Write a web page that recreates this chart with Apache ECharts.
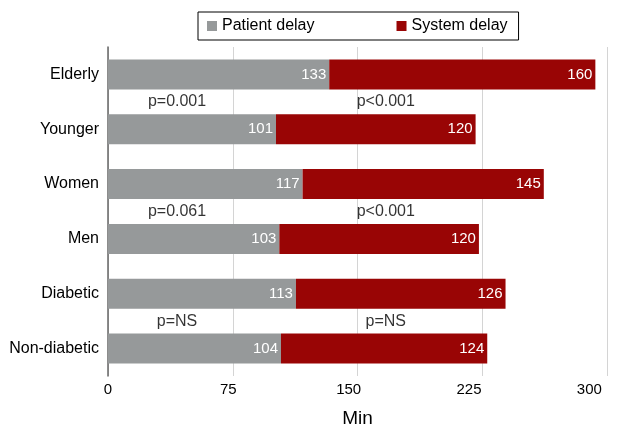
<!DOCTYPE html>
<html>
<head>
<meta charset="utf-8">
<script src="https://cdn.jsdelivr.net/npm/echarts@6/dist/echarts.min.js"></script>
<style>html,body{margin:0;padding:0;background:#fff;}#c{width:620px;height:424px;}</style>
</head>
<body>
<div id="c"></div>
<script>
const categories = ['Elderly', 'Younger', 'Women', 'Men', 'Diabetic', 'Non-diabetic'];
const patientDelay = [133, 101, 117, 103, 113, 104];
const systemDelay = [160, 120, 145, 120, 126, 124];
const tickValues = [0, 75, 150, 225, 300];
const pLeft = ['p=0.001', 'p=0.061', 'p=NS'];
const pRight = ['p<0.001', 'p<0.001', 'p=NS'];

const FONT = '"Liberation Sans", Arial, Helvetica, sans-serif';
const annotations = [];
pLeft.forEach((t, i) => annotations.push({ value: [41.5, 1 + 2 * i], name: t }));
pRight.forEach((t, i) => annotations.push({ value: [167, 1 + 2 * i], name: t }));

const chart = echarts.init(document.getElementById('c'));
chart.setOption({
  animation: false,
  textStyle: { fontFamily: FONT },
  legend: {
    left: 198, top: 12,
    padding: [6, 11, 6, 9],
    borderColor: '#000', borderWidth: 1,
    itemWidth: 10, itemHeight: 10, itemGap: 82,
    icon: 'rect',
    textStyle: { fontSize: 16, color: '#000', fontFamily: FONT },
    data: ['Patient delay', 'System delay']
  },
  grid: { left: 108, top: 47, width: 499, height: 329, containLabel: false, outerBoundsMode: 'none' },
  xAxis: [
    {
      type: 'value', min: 0, max: 300, interval: 75,
      axisLine: { show: false }, axisTick: { show: false },
      axisLabel: { show: false },
      splitLine: { show: true, lineStyle: { color: '#d4d4d4', width: 1 } }
    },
    {
      type: 'value', min: 0, max: 311, interval: 75, position: 'bottom',
      axisLine: { show: false }, axisTick: { show: false },
      splitLine: { show: false },
      axisLabel: {
        fontSize: 15, color: '#000', margin: 6, fontFamily: FONT,
        showMaxLabel: false,
        formatter: v => tickValues.indexOf(v) >= 0 ? String(v) : ''
      },
      name: 'Min', nameLocation: 'middle', nameGap: 33,
      nameTextStyle: { fontSize: 19, color: '#000', fontFamily: FONT }
    }
  ],
  yAxis: [
    {
      type: 'category', data: categories, inverse: true,
      axisLine: { show: true, lineStyle: { color: '#666', width: 1.5 } },
      axisTick: { show: false },
      axisLabel: { fontSize: 16, color: '#000', margin: 9, fontFamily: FONT }
    },
    { type: 'value', min: 0, max: 6, inverse: true, show: false }
  ],
  series: [
    {
      name: 'Patient delay', type: 'bar', stack: 'd', data: patientDelay, barWidth: 30,
      itemStyle: { color: '#96999a' },
      label: { show: true, position: 'insideRight', distance: 3, color: '#fff', fontSize: 15, fontFamily: FONT }
    },
    {
      name: 'System delay', type: 'bar', stack: 'd', data: systemDelay, barWidth: 30,
      itemStyle: { color: '#990505' },
      label: { show: true, position: 'insideRight', distance: 3, color: '#fff', fontSize: 15, fontFamily: FONT }
    },
    {
      type: 'scatter', yAxisIndex: 1, xAxisIndex: 0, symbolSize: 0, silent: true,
      data: annotations,
      label: { show: true, position: 'inside', formatter: p => p.name, color: '#000', fontSize: 16, fontFamily: FONT }
    }
  ]
});
</script>
</body>
</html>
